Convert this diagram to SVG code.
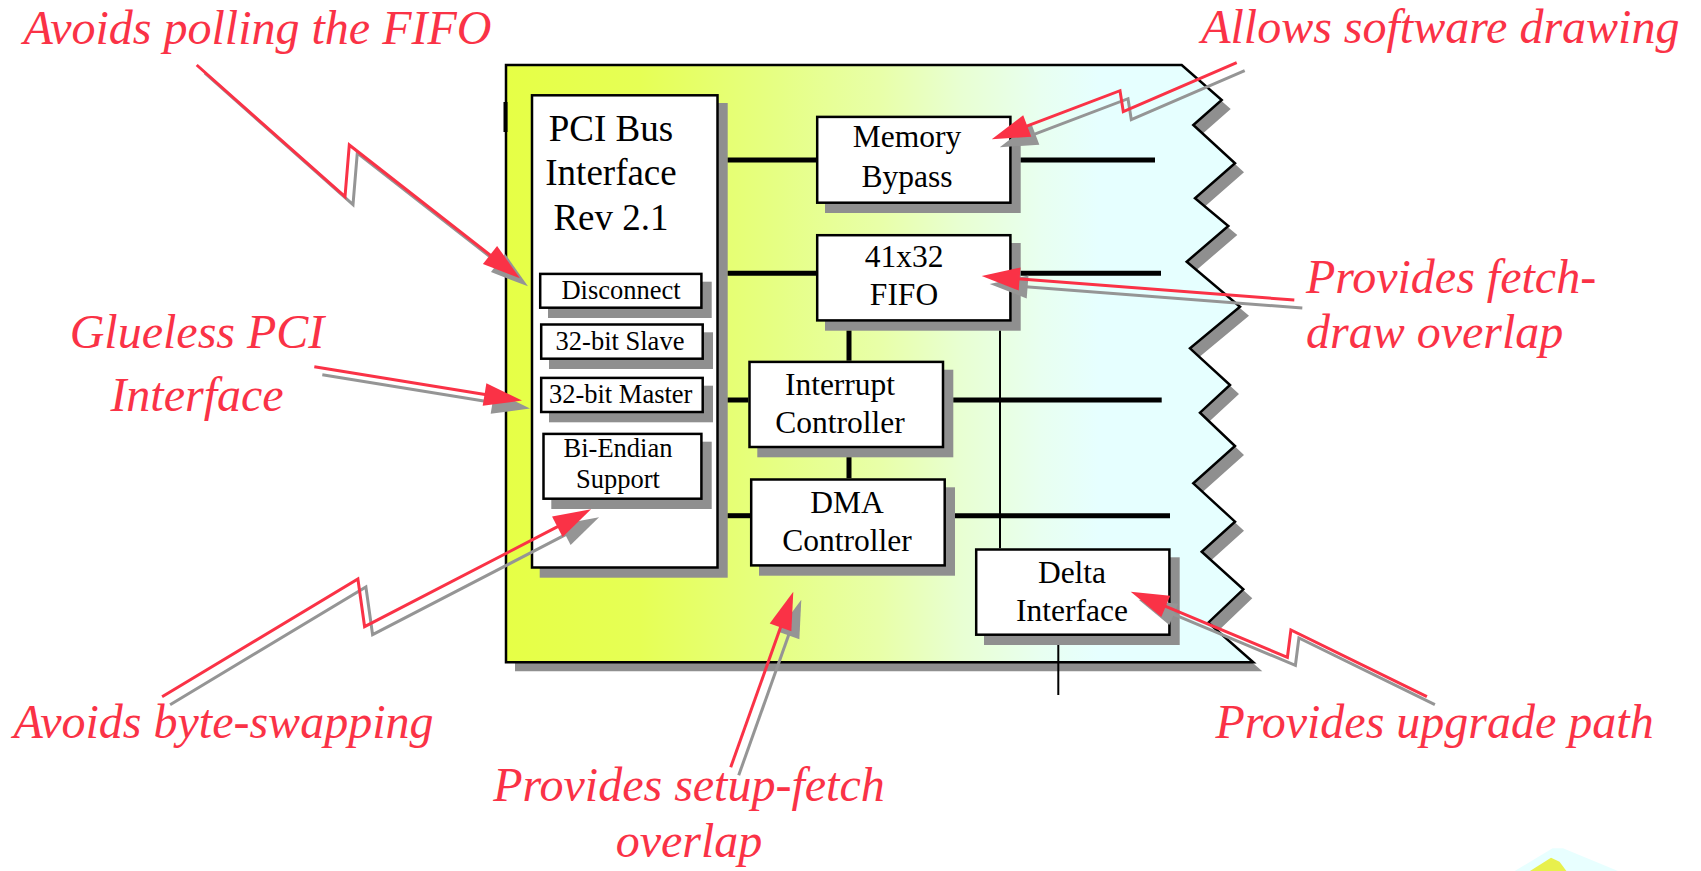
<svg xmlns="http://www.w3.org/2000/svg" width="1701" height="871" viewBox="0 0 1701 871">
<style>
.box{fill:#fff;stroke:#000;stroke-width:2.5}
.sh{fill:#8f8f8f}
.t{font-family:"Liberation Serif","Times New Roman",serif;fill:#000;text-anchor:middle}
.big{font-size:37px}
.med{font-size:31.5px}
.sm{font-size:26.5px}
.lbl{font-family:"Liberation Serif","Times New Roman",serif;font-style:italic;font-size:48px;fill:#fa3246;text-anchor:middle}
.bus{stroke:#000;stroke-width:5;fill:none}
.thin{stroke:#000;stroke-width:2;fill:none}
.ar{stroke:#fa3246;stroke-width:3;fill:none;marker-end:url(#mr)}
.ag{stroke:#959595;stroke-width:3;fill:none;marker-end:url(#mg)}
</style>
<defs>
<linearGradient id="bg" gradientUnits="userSpaceOnUse" x1="506" y1="0" x2="1253" y2="0">
<stop offset="0" stop-color="#e6ff46"/>
<stop offset="0.179" stop-color="#e6ff55"/>
<stop offset="0.367" stop-color="#e6ff85"/>
<stop offset="0.5" stop-color="#e8ffa8"/>
<stop offset="0.608" stop-color="#e8ffd2"/>
<stop offset="0.715" stop-color="#e8fff0"/>
<stop offset="0.795" stop-color="#e6ffff"/>
<stop offset="1" stop-color="#e6ffff"/>
</linearGradient>
<marker id="mr" markerUnits="userSpaceOnUse" markerWidth="40" markerHeight="24" refX="2" refY="11.5" orient="auto" overflow="visible">
<path d="M0,0 L38,11.5 L0,23 Z" fill="#fa3246"/>
</marker>
<marker id="mg" markerUnits="userSpaceOnUse" markerWidth="40" markerHeight="24" refX="2" refY="11.5" orient="auto" overflow="visible">
<path d="M0,0 L38,11.5 L0,23 Z" fill="#959595"/>
</marker>
</defs>
<rect x="0" y="0" width="1701" height="871" fill="#fff"/>

<g id="board">
<polygon class="sh" transform="translate(9,9)" points="506,65 1181.7,65 1221.7,100 1193.3,125 1235,163.3 1195,198.3 1228.3,226 1186.7,261.7 1240,306.7 1190,348.3 1230,385 1200,412.7 1235,446 1193.3,483.3 1235,521.7 1201.7,551.7 1243.3,589.3 1208.3,622.7 1253.3,662.3 506,662.3"/>
<polygon fill="url(#bg)" stroke="#000" stroke-width="2.5" stroke-linejoin="miter" points="506,65 1181.7,65 1221.7,100 1193.3,125 1235,163.3 1195,198.3 1228.3,226 1186.7,261.7 1240,306.7 1190,348.3 1230,385 1200,412.7 1235,446 1193.3,483.3 1235,521.7 1201.7,551.7 1243.3,589.3 1208.3,622.7 1253.3,662.3 506,662.3"/>
<rect x="503.5" y="102" width="4" height="30" fill="#000"/>
</g>

<g id="pci">
<rect class="sh" x="539.7" y="103" width="188" height="474.7"/>
<rect class="box" x="532" y="95.3" width="185.5" height="472.2"/>
<text class="t big" x="611" y="140.7">PCI Bus</text>
<text class="t big" x="611" y="185">Interface</text>
<text class="t big" x="611" y="230">Rev 2.1</text>
</g>
<g id="disconnect">
<rect class="sh" x="548" y="281.7" width="163.7" height="36.3"/>
<rect class="box" x="540.2" y="273.9" width="161.2" height="33.8"/>
<text class="t sm" x="621" y="298.7">Disconnect</text>
</g>
<g id="slave">
<rect class="sh" x="549" y="332.3" width="164" height="36.7"/>
<rect class="box" x="541.2" y="324.5" width="161.5" height="34.2"/>
<text class="t sm" x="620" y="350.3">32-bit Slave</text>
</g>
<g id="master">
<rect class="sh" x="549" y="385.7" width="164" height="36.6"/>
<rect class="box" x="541.2" y="377.9" width="161.5" height="34.1"/>
<text class="t sm" x="620.7" y="403.4">32-bit Master</text>
</g>
<g id="biendian">
<rect class="sh" x="551.3" y="441.7" width="160.4" height="67.3"/>
<rect class="box" x="543.5" y="433.9" width="157.9" height="64.8"/>
<text class="t sm" x="618" y="457.3">Bi-Endian</text>
<text class="t sm" x="618" y="488">Support</text>
</g>
<g id="memory">
<rect class="sh" x="825" y="124.7" width="195.7" height="88.3"/>
<rect class="box" x="817.2" y="116.9" width="193.2" height="85.8"/>
<text class="t med" x="907" y="147.3">Memory</text>
<text class="t med" x="907" y="186.7">Bypass</text>
</g>
<g id="fifo">
<rect class="sh" x="825" y="243" width="195.7" height="87.7"/>
<rect class="box" x="817.2" y="235.2" width="193.2" height="85.2"/>
<text class="t med" x="904" y="266.7">41x32</text>
<text class="t med" x="904" y="305">FIFO</text>
</g>
<g id="interrupt">
<rect class="sh" x="757.3" y="369.7" width="196" height="87.6"/>
<rect class="box" x="749.5" y="361.9" width="193.5" height="85.1"/>
<text class="t med" x="840" y="395">Interrupt</text>
<text class="t med" x="840" y="433.3">Controller</text>
</g>
<g id="dma">
<rect class="sh" x="759" y="487.3" width="196" height="88.4"/>
<rect class="box" x="751.2" y="479.5" width="193.5" height="85.9"/>
<text class="t med" x="847" y="513.3">DMA</text>
<text class="t med" x="847" y="551">Controller</text>
</g>
<g id="delta">
<rect class="sh" x="984" y="557.3" width="195.7" height="87.7"/>
<rect class="box" x="976.2" y="549.5" width="193.2" height="85.2"/>
<text class="t med" x="1072" y="583.3">Delta</text>
<text class="t med" x="1072" y="621">Interface</text>
</g>

<g id="connectors">
<line class="bus" x1="727.7" y1="160" x2="816" y2="160"/>
<line class="bus" x1="1020.7" y1="160" x2="1155" y2="160"/>
<line class="bus" x1="727.7" y1="273.3" x2="816" y2="273.3"/>
<line class="bus" x1="1020.7" y1="273.3" x2="1161" y2="273.3"/>
<line class="bus" x1="727.7" y1="400" x2="748.3" y2="400"/>
<line class="bus" x1="953.3" y1="400" x2="1161.7" y2="400"/>
<line class="bus" x1="727.7" y1="515.7" x2="750" y2="515.7"/>
<line class="bus" x1="955" y1="515.7" x2="1170" y2="515.7"/>
<line class="bus" x1="849" y1="330.7" x2="849" y2="360.7"/>
<line class="bus" x1="849" y1="457.3" x2="849" y2="478.3"/>
<line class="thin" x1="1000" y1="330.7" x2="1000" y2="548.3"/>
<line class="thin" x1="1058.3" y1="645" x2="1058.3" y2="695"/>
</g>

<g id="callout-arrows">
<polyline class="ag" transform="translate(8,8)" points="196.7,65 345,196.7 349.3,145 491.6,256.2"/>
<polyline class="ar" points="196.7,65 345,196.7 349.3,145 491.6,256.2"/>
<polyline class="ag" transform="translate(8,8)" points="314.3,366.7 486.5,394.8"/>
<polyline class="ar" points="314.3,366.7 486.5,394.8"/>
<polyline class="ag" transform="translate(8,8)" points="162.1,696.7 357.9,579 364.6,626.7 559.1,525.9"/>
<polyline class="ar" points="162.1,696.7 357.9,579 364.6,626.7 559.1,525.9"/>
<polyline class="ag" transform="translate(8,8)" points="730.7,767.3 781.2,625.6"/>
<polyline class="ar" points="730.7,767.3 781.2,625.6"/>
<polyline class="ag" transform="translate(8,8)" points="1236.7,62.7 1123.3,111.7 1120,90.7 1025.4,126.6"/>
<polyline class="ar" points="1236.7,62.7 1123.3,111.7 1120,90.7 1025.4,126.6"/>
<polyline class="ag" transform="translate(8,8)" points="1294.3,300 1017.6,278.8"/>
<polyline class="ar" points="1294.3,300 1017.6,278.8"/>
<polyline class="ag" transform="translate(8,8)" points="1426.9,696.7 1290.9,630 1287.4,657.3 1163.9,605.6"/>
<polyline class="ar" points="1426.9,696.7 1290.9,630 1287.4,657.3 1163.9,605.6"/>
</g>

<g id="label-polling"><text class="lbl" x="257.5" y="44.3">Avoids polling the FIFO</text></g>
<g id="label-glueless"><text class="lbl" x="197" y="348.3">Glueless PCI</text><text class="lbl" x="197" y="411.3">Interface</text></g>
<g id="label-byteswap"><text class="lbl" x="223.5" y="737.5">Avoids byte-swapping</text></g>
<g id="label-setupfetch"><text class="lbl" x="689" y="800.7">Provides setup-fetch</text><text class="lbl" x="689" y="857.3">overlap</text></g>
<g id="label-software"><text class="lbl" x="1440.3" y="42.7">Allows software drawing</text></g>
<g id="label-fetchdraw"><text class="lbl" x="1306" y="292.7" style="text-anchor:start">Provides fetch-</text><text class="lbl" x="1306" y="348.3" style="text-anchor:start">draw overlap</text></g>
<g id="label-upgrade"><text class="lbl" x="1434.6" y="738.3">Provides upgrade path</text></g>

<g id="corner-fragment">
<polygon points="1514.7,871 1552.6,848.3 1563,848.3 1618,871" fill="#e8ffff"/>
<polygon points="1530,871 1551,857.7 1559.5,861.7 1566.4,871" fill="#e8f04c"/>
</g>
</svg>
